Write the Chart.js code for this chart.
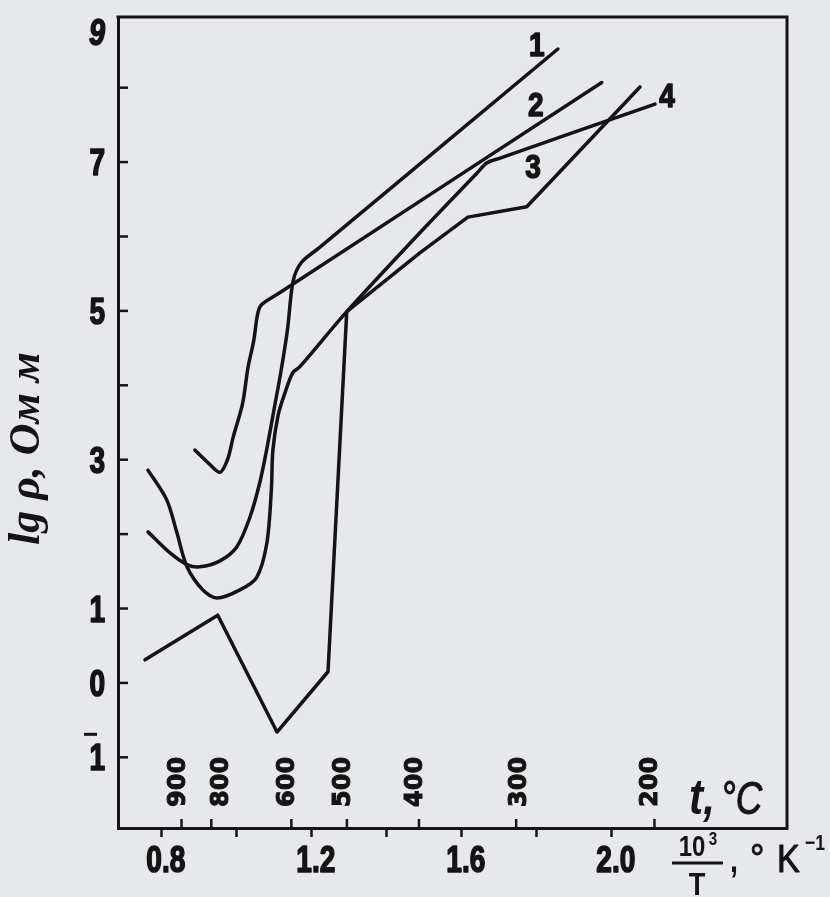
<!DOCTYPE html>
<html>
<head>
<meta charset="utf-8">
<script src="https://cdn.jsdelivr.net/npm/chart.js@4/dist/chart.umd.min.js"></script>
<style>
  html, body { margin: 0; padding: 0; background: #e7e8eb; }
  #wrap { width: 830px; height: 897px; position: relative; overflow: hidden; }
</style>
</head>
<body>
<div id="wrap"><canvas id="c" width="830" height="897"></canvas></div>
<script>
// ---- data (x = 10^3/T, K^-1 ; y = lg rho, Ohm m) ----
const curveNames = ['1', '2', '3', '4'];
const curve1 = [[0.763,2.03],[0.821,1.75],[0.867,1.59],[0.901,1.56],[0.955,1.64],[1.0,1.83],[1.035,2.23],[1.061,2.69],[1.080,3.15],[1.100,3.70],[1.118,4.20],[1.135,4.75],[1.150,5.40],[1.172,5.65],[1.22,5.85],[1.856,8.52]];
const curve2 = [[0.888,3.13],[0.925,2.95],[0.955,2.83],[0.975,3.00],[0.990,3.30],[1.015,3.75],[1.030,4.25],[1.045,4.60],[1.055,4.95],[1.065,5.08],[1.11,5.23],[1.973,8.07]];
const curve3 = [[0.755,0.31],[0.949,0.91],[1.107,-0.66],[1.243,0.15],[1.293,4.99],[1.488,5.78],[1.616,6.26],[1.773,6.40],[2.075,8.01]];
const curve4 = [[0.763,2.86],[0.813,2.46],[0.840,2.02],[0.867,1.56],[0.909,1.25],[0.947,1.14],[1.008,1.25],[1.053,1.42],[1.080,1.88],[1.092,2.60],[1.096,3.13],[1.110,3.60],[1.125,3.85],[1.149,4.17],[1.168,4.25],[1.293,4.99],[1.488,6.05],[1.640,6.85],[1.667,6.99],[1.700,7.05],[2.115,7.78]];
const curves = [curve1, curve2, curve3, curve4];
const curveTension = [0.3, 0.3, 0, 0.3];

const xTickValues = [0.8, 1.0, 1.2, 1.4, 1.6, 1.8, 2.0];
const xTickLabels = ['0.8', '', '1.2', '', '1.6', '', '2.0'];
const yTickValues = [-1, 0, 1, 2, 3, 4, 5, 6, 7, 8];
const yTickLabels = ['1', '0', '1', '', '3', '', '5', '', '7', ''];
const yTopLabel = '9';
const tempTicks = [900, 800, 600, 500, 400, 300, 200];   // t, °C

// ---- style ----
const INK = '#141414';
const SANS = '"Liberation Sans", Arial, sans-serif';

function narrowText(ctx, text, x, y, font, sx, align, baseline, stroke) {
  ctx.save();
  ctx.translate(x, y);
  ctx.scale(sx, 1);
  ctx.font = font;
  ctx.textAlign = align || 'left';
  ctx.textBaseline = baseline || 'alphabetic';
  ctx.fillText(text, 0, 0);
  if (stroke) { ctx.lineWidth = stroke; ctx.lineJoin = 'round'; ctx.strokeText(text, 0, 0); }
  ctx.restore();
}

const decor = {
  id: 'decor',
  afterDraw(chart, args, o) {
    const { ctx, chartArea: a, scales: { x, y } } = chart;
    ctx.save();
    ctx.strokeStyle = INK; ctx.fillStyle = INK;
    // frame top / right
    ctx.lineWidth = 3;
    ctx.beginPath();
    ctx.moveTo(a.left - 1.5, a.top); ctx.lineTo(a.right, a.top); ctx.lineTo(a.right, a.bottom + 1.5);
    ctx.stroke();
    // inward y ticks
    ctx.lineWidth = 2.5;
    yTickValues.forEach(v => {
      const py = y.getPixelForValue(v);
      ctx.beginPath(); ctx.moveTo(a.left, py); ctx.lineTo(a.left + 10, py); ctx.stroke();
    });
    // y tick labels
    const yFont = 'bold 36px ' + SANS;
    yTickValues.forEach((v, i) => {
      if (yTickLabels[i]) narrowText(ctx, yTickLabels[i], a.left - 13, y.getPixelForValue(v) + 13, yFont, 0.78, 'right', 'alphabetic', 1.6);
    });
    narrowText(ctx, yTopLabel, a.left - 13, y.getPixelForValue(y.max) + 28, 'italic ' + yFont, 0.8, 'right', 'alphabetic', 1.6);
    // overbar of -1
    ctx.lineWidth = 3;
    const pm1 = y.getPixelForValue(-1);
    ctx.beginPath(); ctx.moveTo(a.left - 34, pm1 - 23); ctx.lineTo(a.left - 21, pm1 - 23); ctx.stroke();
    // x tick labels
    xTickValues.forEach((v, i) => {
      if (xTickLabels[i]) narrowText(ctx, xTickLabels[i], x.getPixelForValue(v) + 4, a.bottom + 44, 'bold 36px ' + SANS, 0.78, 'center', 'alphabetic', 1.6);
    });
    // temperature scale (ticks up, rotated labels)
    ctx.lineWidth = 2.5;
    tempTicks.forEach(t => {
      const px = x.getPixelForValue(1000 / (t + 273.15));
      ctx.beginPath(); ctx.moveTo(px, a.bottom); ctx.lineTo(px, a.bottom - 9); ctx.stroke();
      ctx.save();
      ctx.translate(px + (o.tempDx[t] !== undefined ? o.tempDx[t] : 3), a.bottom - 21);
      ctx.rotate(-Math.PI / 2);
      ctx.font = 'bold 24px "DejaVu Sans", sans-serif';
      ctx.textAlign = 'left'; ctx.textBaseline = 'alphabetic';
      ctx.fillText(String(t), 0, 0);
      ctx.lineWidth = 1; ctx.strokeText(String(t), 0, 0);
      ctx.restore();
    });
    // "t, °C"
    narrowText(ctx, 't,', a.right - 98, a.bottom - 14, 'italic bold 50px ' + SANS, 0.85, 'left');
    narrowText(ctx, '°C', a.right - 66, a.bottom - 14, 'italic 46px ' + SANS, 0.8, 'left', 'alphabetic', 1);
    // x-axis title 10^3/T , °K^-1
    const fx = a.right - 90;
    narrowText(ctx, '10', fx - 5, a.bottom + 28, 'bold 30px ' + SANS, 0.8, 'center');
    narrowText(ctx, '3', fx + 16, a.bottom + 17, 'bold 19px ' + SANS, 0.8, 'center');
    ctx.lineWidth = 3;
    ctx.beginPath(); ctx.moveTo(fx - 25, a.bottom + 35); ctx.lineTo(fx + 26, a.bottom + 35); ctx.stroke();
    narrowText(ctx, 'T', fx, a.bottom + 67, 'bold 32px ' + SANS, 0.85, 'center');
    narrowText(ctx, ',', fx + 33, a.bottom + 44, 'bold 36px ' + SANS, 0.8, 'left');
    narrowText(ctx, '°', fx + 53, a.bottom + 44, '40px ' + SANS, 0.9, 'left', 'alphabetic', 1);
    narrowText(ctx, 'K', fx + 80, a.bottom + 44, '38px ' + SANS, 0.9, 'left', 'alphabetic', 1);
    narrowText(ctx, '−1', fx + 108, a.bottom + 22, 'bold 22px ' + SANS, 0.8, 'left');
    // y-axis title
    ctx.save();
    ctx.translate(a.left - 90, y.getPixelForValue(3.15));
    ctx.rotate(-Math.PI / 2);
    ctx.font = 'italic bold 44px "Liberation Serif", "DejaVu Serif", serif';
    ctx.textAlign = 'center'; ctx.textBaseline = 'middle';
    ctx.fillText('lg ρ, Ом м', 0, 0);
    ctx.restore();
    // curve numbers
    chart.data.datasets.forEach((ds, i) => {
      const last = ds.data[ds.data.length - 1];
      const off = o.labelOffsets[i];
      narrowText(ctx, ds.label, x.getPixelForValue(last.x) + off[0], y.getPixelForValue(last.y) + off[1], 'bold 33px ' + SANS, 0.85, 'center', 'middle', 1.5);
    });
    ctx.restore();
  }
};

new Chart(document.getElementById('c'), {
  type: 'scatter',
  data: {
    datasets: curves.map((c, i) => ({
      label: curveNames[i],
      data: c.map(([x, y]) => ({ x, y })),
      showLine: true,
      borderColor: INK,
      borderWidth: 3.5,
      pointRadius: 0,
      tension: curveTension[i],
      fill: false,
      borderJoinStyle: 'round',
      borderCapStyle: 'round'
    }))
  },
  options: {
    responsive: false,
    animation: false,
    devicePixelRatio: 1,
    layout: { padding: { top: 17, right: 43, left: 0, bottom: 0 } },
    plugins: {
      legend: { display: false },
      tooltip: { enabled: false },
      decor: {
        tempDx: { 800: 17, 300: 10 },
        labelOffsets: [[-21, -2], [-66, 24], [-107, 82], [12, -6]]
      }
    },
    scales: {
      x: {
        type: 'linear', min: 0.683, max: 2.467,
        afterBuildTicks: s => { s.ticks = xTickValues.map(v => ({ value: v })); },
        afterFit: s => { s.height = 69; s.paddingLeft = 0; s.paddingRight = 0; },
        ticks: { display: false, autoSkip: false },
        grid: { drawOnChartArea: false, drawTicks: true, tickLength: 9, tickWidth: 2.5, tickColor: INK },
        border: { display: true, width: 3, color: INK }
      },
      y: {
        type: 'linear', min: -1.95, max: 8.95,
        afterBuildTicks: s => { s.ticks = yTickValues.map(v => ({ value: v })); },
        afterFit: s => { s.width = 118; s.paddingTop = 0; s.paddingBottom = 0; },
        ticks: { display: false, autoSkip: false },
        grid: { drawOnChartArea: false, drawTicks: false },
        border: { display: true, width: 3, color: INK }
      }
    }
  },
  plugins: [decor]
});
</script>
</body>
</html>
